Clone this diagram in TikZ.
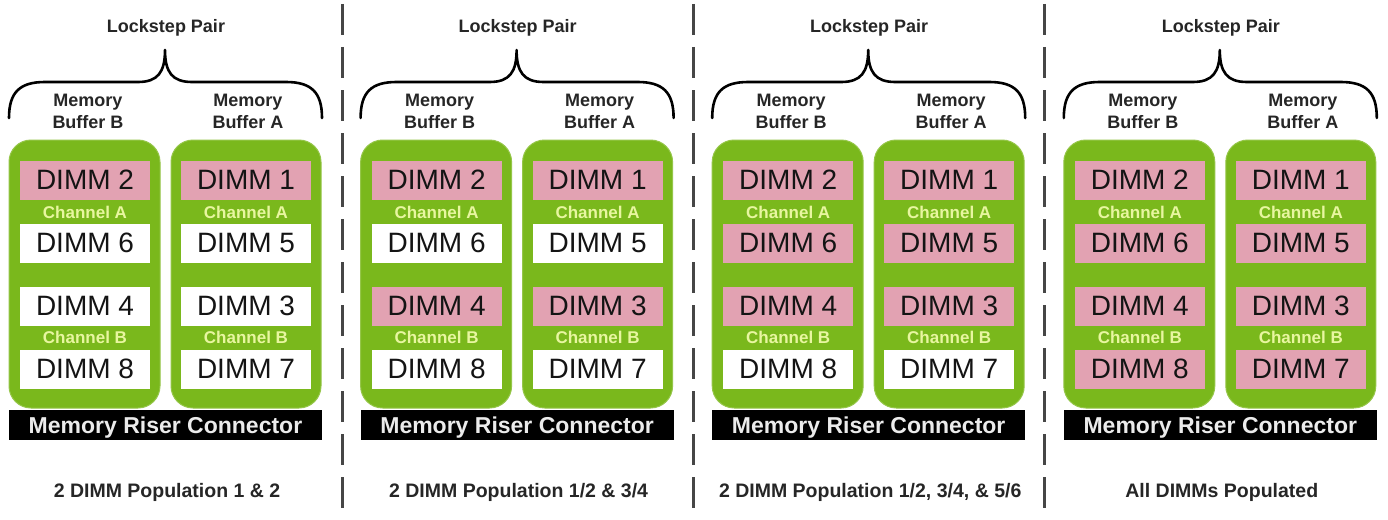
\documentclass[tikz,border=0pt]{standalone}
\usepackage{fontspec}
\setmainfont{Liberation Sans}

\definecolor{boardgreen}{RGB}{122,184,28}
\definecolor{dimmpink}{RGB}{226,162,178}
\definecolor{chantext}{RGB}{232,246,160}
\definecolor{divider}{RGB}{70,70,70}

\tikzset{
  bank/.style={fill=boardgreen, draw=boardgreen!80!white, line width=1pt, rounded corners=22pt},
  dimm/.style={minimum width=130pt, minimum height=39pt, inner sep=0pt,
               font=\fontsize{28}{30}\selectfont, text=black!92},
  used/.style={dimm, fill=dimmpink},
  empty/.style={dimm, fill=white},
  chan/.style={inner sep=0pt, font=\bfseries\fontsize{17}{18}\selectfont, text=chantext},
  riser/.style={fill=black, text=white!92!black, minimum width=313pt, minimum height=30pt,
                inner sep=0pt, text depth=0pt, font=\bfseries\fontsize{23}{24}\selectfont},
  headlabel/.style={inner sep=0pt, font=\bfseries\fontsize{18}{22}\selectfont, text=black!85},
  bufferlabel/.style={headlabel, align=center},
  caption/.style={inner sep=0pt, font=\bfseries\fontsize{19.5}{22}\selectfont, text=black!85},
  bracket/.style={line width=2.6pt, line cap=round, line join=round},
  separator/.style={draw=divider, line width=3pt, dash pattern=on 31pt off 12pt, dash phase=-4pt}
}

\begin{document}
\begin{tikzpicture}[x=1pt, y=-1pt]
  \useasboundingbox (0,0) rectangle (1388,519);
  \fill[white] (0,0) rectangle (1388,519);

  % four population panels; each row style lists rows 1/2, 6/5, 4/3, 8/7
  \foreach \k/\ra/\rb/\rc/\rd/\cap in {
      0/used/empty/empty/empty/{2 DIMM Population 1 \& 2},
      1/used/empty/used/empty/{2 DIMM Population 1/2 \& 3/4},
      2/used/used/used/empty/{2 DIMM Population 1/2, 3/4, \& 5/6},
      3/used/used/used/used/{All DIMMs Populated}} {
    \begin{scope}[xshift={\k*351.6pt}]
      % lockstep bracket
      \node[headlabel] (p\k-lock) at (166,28) {Lockstep Pair};
      \draw[bracket] (9,118) .. controls (9,92) and (20,82) .. (45,82)
                     -- (138,82) .. controls (158,82) and (165,72) .. (165,50)
                     .. controls (165,72) and (172,82) .. (192,82)
                     -- (286,82) .. controls (311,82) and (322,92) .. (322,118);
      \node[bufferlabel] (p\k-bufB) at (88,111) {Memory\\Buffer B};
      \node[bufferlabel] (p\k-bufA) at (248,111) {Memory\\Buffer A};

      % memory buffer banks
      \path[bank] (9,140) rectangle (160,408);
      \path[bank] (171,140) rectangle (321,408);

      % buffer B column
      \node[\ra] (p\k-d2) at (85,180) {DIMM 2};
      \node[chan] (p\k-chAB) at (85,212) {Channel A};
      \node[\rb] (p\k-d6) at (85,243) {DIMM 6};
      \node[\rc] (p\k-d4) at (85,306) {DIMM 4};
      \node[chan] (p\k-chBB) at (85,337) {Channel B};
      \node[\rd] (p\k-d8) at (85,369) {DIMM 8};

      % buffer A column
      \node[\ra] (p\k-d1) at (246,180) {DIMM 1};
      \node[chan] (p\k-chAA) at (246,212) {Channel A};
      \node[\rb] (p\k-d5) at (246,243) {DIMM 5};
      \node[\rc] (p\k-d3) at (246,306) {DIMM 3};
      \node[chan] (p\k-chBA) at (246,337) {Channel B};
      \node[\rd] (p\k-d7) at (246,369) {DIMM 7};

      % riser connector and caption
      \node[riser] (p\k-riser) at (165.5,425) {Memory Riser Connector};
      \node[caption] (p\k-cap) at (167,492) {\cap};
    \end{scope}
  }

  % dashed panel separators
  \foreach \sx in {342,693.5,1044.5}
    \draw[separator] (\sx,0) -- (\sx,519);
\end{tikzpicture}
\end{document}
